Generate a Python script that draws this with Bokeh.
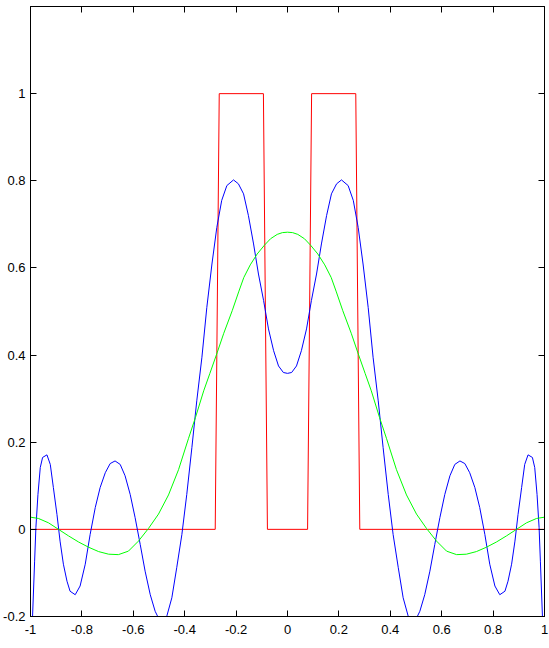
from bokeh.plotting import figure
from bokeh.models import Range1d, FixedTicker, LinearAxis, CustomLabelingPolicy
from bokeh.embed import file_html
from bokeh.resources import INLINE

# ---- data ----
red_x = [-1.0, -0.28125, -0.265625, -0.09375, -0.078125, 0.078125, 0.09375, 0.265625, 0.28125, 1.0]
red_y = [0, 0, 1, 1, 0, 0, 1, 1, 0, 0]

blue_x = [-1.0, -0.992, -0.984, -0.979, -0.971, -0.962, -0.953, -0.936, -0.923, -0.911,
          -0.897, -0.885, -0.872, -0.858, -0.846, -0.826, -0.807, -0.787, -0.768, -0.748,
          -0.729, -0.709, -0.690, -0.671, -0.651, -0.632, -0.612, -0.593, -0.573, -0.554,
          -0.534, -0.515, -0.505, -0.487, -0.470, -0.450, -0.431, -0.411, -0.392, -0.372,
          -0.353, -0.333, -0.314, -0.294, -0.275, -0.256, -0.236, -0.210, -0.191, -0.171,
          -0.152, -0.132, -0.113, -0.093, -0.074, -0.054, -0.035, -0.016, 0.0,
          0.016, 0.035, 0.054, 0.074, 0.093, 0.113, 0.132, 0.152,
          0.171, 0.191, 0.210, 0.236, 0.256, 0.275, 0.294, 0.314, 0.333, 0.353,
          0.372, 0.392, 0.411, 0.431, 0.450, 0.470, 0.487, 0.505, 0.515, 0.534,
          0.554, 0.573, 0.593, 0.612, 0.632, 0.651, 0.671, 0.690, 0.709, 0.729,
          0.748, 0.768, 0.787, 0.807, 0.826, 0.846, 0.858, 0.872, 0.885, 0.897,
          0.911, 0.923, 0.936, 0.953, 0.962, 0.971, 0.979, 0.984, 0.992, 1.0]
blue_y = [-0.36, -0.20, -0.073, 0.004, 0.080, 0.142, 0.165, 0.171, 0.149, 0.096,
          0.034, -0.027, -0.080, -0.119, -0.142, -0.150, -0.130, -0.080, -0.012, 0.050,
          0.096, 0.130, 0.151, 0.157, 0.149, 0.123, 0.080, 0.027, -0.035, -0.096,
          -0.150, -0.188, -0.200, -0.215, -0.200, -0.157, -0.088, -0.012, 0.080, 0.188,
          0.295, 0.395, 0.509, 0.609, 0.693, 0.755, 0.789, 0.802, 0.793, 0.770,
          0.720, 0.655, 0.586, 0.525, 0.460, 0.410, 0.375, 0.360, 0.358,
          0.360, 0.375, 0.410, 0.460, 0.525, 0.586, 0.655, 0.720,
          0.770, 0.793, 0.802, 0.789, 0.755, 0.693, 0.609, 0.509, 0.395, 0.295,
          0.188, 0.080, -0.012, -0.088, -0.157, -0.200, -0.215, -0.200, -0.188, -0.150,
          -0.096, -0.035, 0.027, 0.080, 0.123, 0.149, 0.157, 0.151, 0.130, 0.096,
          0.050, -0.012, -0.080, -0.130, -0.150, -0.142, -0.119, -0.080, -0.027, 0.034,
          0.096, 0.149, 0.171, 0.165, 0.142, 0.080, 0.004, -0.073, -0.20, -0.36]

green_x = [-1.0, -0.969, -0.930, -0.891, -0.852, -0.813, -0.774, -0.735, -0.696, -0.658,
           -0.619, -0.580, -0.541, -0.502, -0.463, -0.424, -0.385, -0.358, -0.326, -0.302,
           -0.274, -0.248, -0.215, -0.190, -0.170, -0.145, -0.118, -0.090, -0.066, -0.040,
           -0.020, 0.0,
           0.020, 0.040, 0.066, 0.090, 0.118, 0.145, 0.170, 0.190, 0.215, 0.248,
           0.274, 0.302, 0.326, 0.358, 0.385, 0.424, 0.463, 0.502, 0.541, 0.580,
           0.619, 0.658, 0.696, 0.735, 0.774, 0.813, 0.852, 0.891, 0.930, 0.969, 1.0]
green_y = [0.028, 0.025, 0.015, 0.0, -0.015, -0.029, -0.041, -0.051, -0.057, -0.058,
           -0.050, -0.027, 0.002, 0.035, 0.079, 0.137, 0.209, 0.257, 0.318, 0.358,
           0.405, 0.450, 0.502, 0.545, 0.578, 0.607, 0.632, 0.652, 0.667, 0.677,
           0.681, 0.682,
           0.681, 0.677, 0.667, 0.652, 0.632, 0.607, 0.578, 0.545, 0.502, 0.450,
           0.405, 0.358, 0.318, 0.257, 0.209, 0.137, 0.079, 0.035, 0.002, -0.027,
           -0.050, -0.058, -0.057, -0.051, -0.041, -0.029, -0.015, 0.0, 0.015, 0.025, 0.028]

x_ticks = [-1, -0.8, -0.6, -0.4, -0.2, 0, 0.2, 0.4, 0.6, 0.8, 1]
x_labels = ["-1", "-0.8", "-0.6", "-0.4", "-0.2", "0", "0.2", "0.4", "0.6", "0.8", "1"]
y_ticks = [-0.2, 0, 0.2, 0.4, 0.6, 0.8, 1]
y_labels = ["-0.2", "0", "0.2", "0.4", "0.6", "0.8", "1"]

FONT = "Liberation Sans"

p = figure(frame_width=514, frame_height=610, output_backend="svg", toolbar_location=None,
           x_range=Range1d(-1, 1), y_range=Range1d(-0.2, 1.2),
           min_border_left=30, min_border_right=0, min_border_top=6, min_border_bottom=0)
p.xgrid.visible = False
p.ygrid.visible = False
p.outline_line_color = "black"
p.outline_line_width = 1
p.background_fill_color = "white"
p.border_fill_color = "white"

hide_all = CustomLabelingPolicy(code="""
const ids = [];
for (const i of indices) ids.push(i);
for (const i of ids) indices.unset(i);
return indices;
""")

def style_axis(ax, ticks, labels, show_labels):
    ax.ticker = FixedTicker(ticks=ticks)
    ax.major_tick_in = 6
    ax.major_tick_out = 0
    ax.minor_tick_in = 0
    ax.minor_tick_out = 0
    ax.axis_line_color = "black"
    ax.major_tick_line_color = "black"
    ax.major_label_text_font = FONT
    ax.major_label_text_color = "black"
    if show_labels:
        ax.major_label_text_font_size = "13px"
        ax.major_label_overrides = {t: l for t, l in zip(ticks, labels)}
    else:
        ax.major_label_text_font_size = "1px"
        ax.major_label_policy = hide_all
        ax.major_label_standoff = 0

style_axis(p.xaxis[0], x_ticks, x_labels, True)
p.xaxis[0].major_label_standoff = 8
style_axis(p.yaxis[0], y_ticks, y_labels, True)
p.yaxis[0].major_label_standoff = 5

top = LinearAxis()
style_axis(top, x_ticks, x_labels, False)
p.add_layout(top, "above")
right = LinearAxis()
style_axis(right, y_ticks, y_labels, False)
p.add_layout(right, "right")

p.line(red_x, red_y, line_color="#ff0000", line_width=1)
p.line(blue_x, blue_y, line_color="#0000ff", line_width=1)
p.line(green_x, green_y, line_color="#00ff00", line_width=1)

open("out.html", "w").write(file_html(p, INLINE))
